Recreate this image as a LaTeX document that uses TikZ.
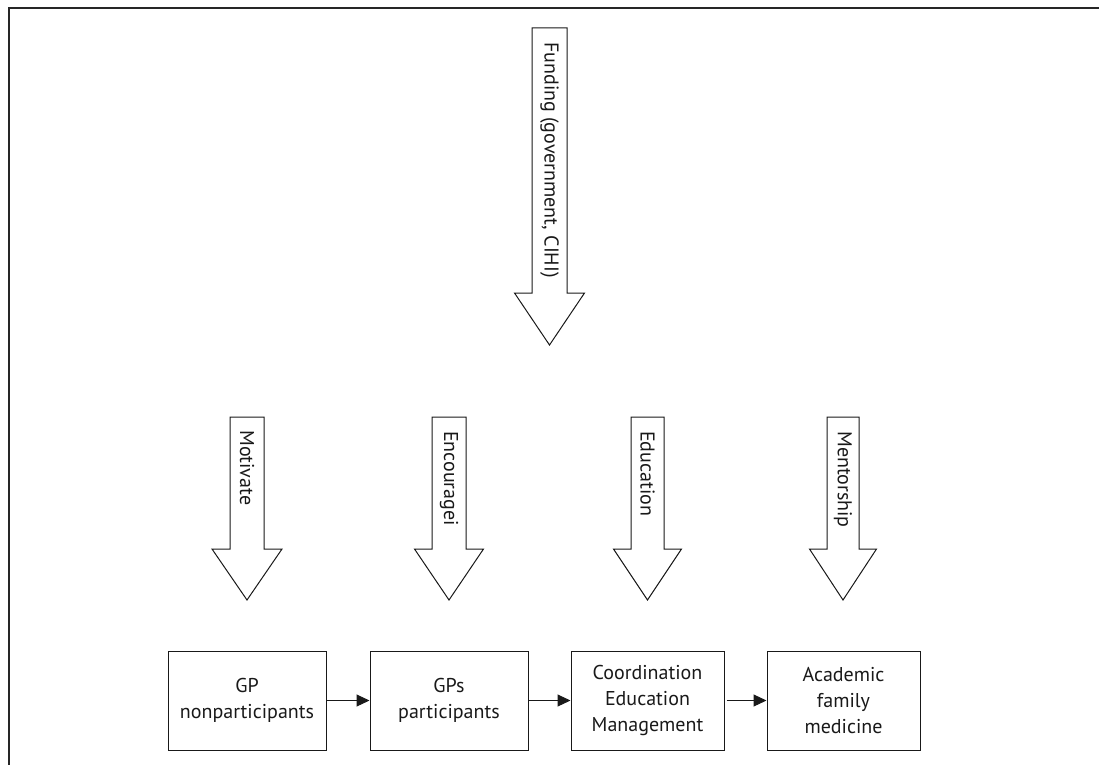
\documentclass[tikz,border=0pt]{standalone}
\usepackage{fontspec}
\setmainfont{PT Sans}
\usetikzlibrary{arrows.meta}
\newcommand\blkarrow[7]{% cx, shaft half, head half, top, shoulder, tip, style
  \draw[#7] ({#1-#2},#4) -- ({#1+#2},#4) -- ({#1+#2},#5) -- ({#1+#3},#5)
    -- (#1,#6) -- ({#1-#3},#5) -- ({#1-#2},#5) -- cycle;}
\begin{document}
\begin{tikzpicture}[x=1pt,y=-1pt,
  blockarrow/.style={draw=black!90, line width=1pt, fill=white},
  lbl/.style={font=\fontsize{20}{26}\selectfont, inner sep=0pt, text=black!90},
  box/.style={draw=black!90, line width=1pt, minimum height=99pt, align=center,
    font=\fontsize{20}{26}\selectfont, inner sep=0pt, text=black!90},
  conn/.style={draw=black!90, line width=1pt, -{Triangle[length=13pt,width=12pt]}},
  frame/.style={draw=black!85, line width=1.5pt}]
\useasboundingbox (0,0) rectangle (1099,765);
\draw[frame] (1099,8) -- (9,8) -- (9,765);
% block arrows
\blkarrow{549.5}{17.5}{35}{28}{293}{345}{blockarrow}
\blkarrow{247}{17}{35}{417}{549}{600}{blockarrow}
\blkarrow{449}{17}{34.5}{417}{549}{600}{blockarrow}
\blkarrow{647.5}{16.5}{34}{417}{549}{600}{blockarrow}
\blkarrow{843}{16}{33.5}{417}{549}{600}{blockarrow}
% labels
\node[lbl, rotate=-90, anchor=west] (fund) at (549.5,42) {Funding (government, CIHI)};
\node[lbl, rotate=-90, anchor=west] (mot) at (247,430) {Motivate};
\node[lbl, rotate=-90, anchor=west] (enc) at (449,431) {Encouragei};
\node[lbl, rotate=-90, anchor=west] (edu) at (647.5,431) {Education};
\node[lbl, rotate=-90, anchor=west] (men) at (843,431) {Mentorship};
% boxes
\node[box, minimum width=158pt] (b1) at (247,700.5) {GP\\nonparticipants};
\node[box, minimum width=158pt] (b2) at (449,700.5) {GPs\\participants};
\node[box, minimum width=153pt] (b3) at (647.5,700.5) {Coordination\\Education\\Management};
\node[box, minimum width=153pt] (b4) at (843.5,700.5) {Academic\\family\\medicine};
\draw[conn] (b1) -- (b2);
\draw[conn] (b2) -- (b3);
\draw[conn, shorten <=2pt] (b3) -- (b4);
\end{tikzpicture}
\end{document}
